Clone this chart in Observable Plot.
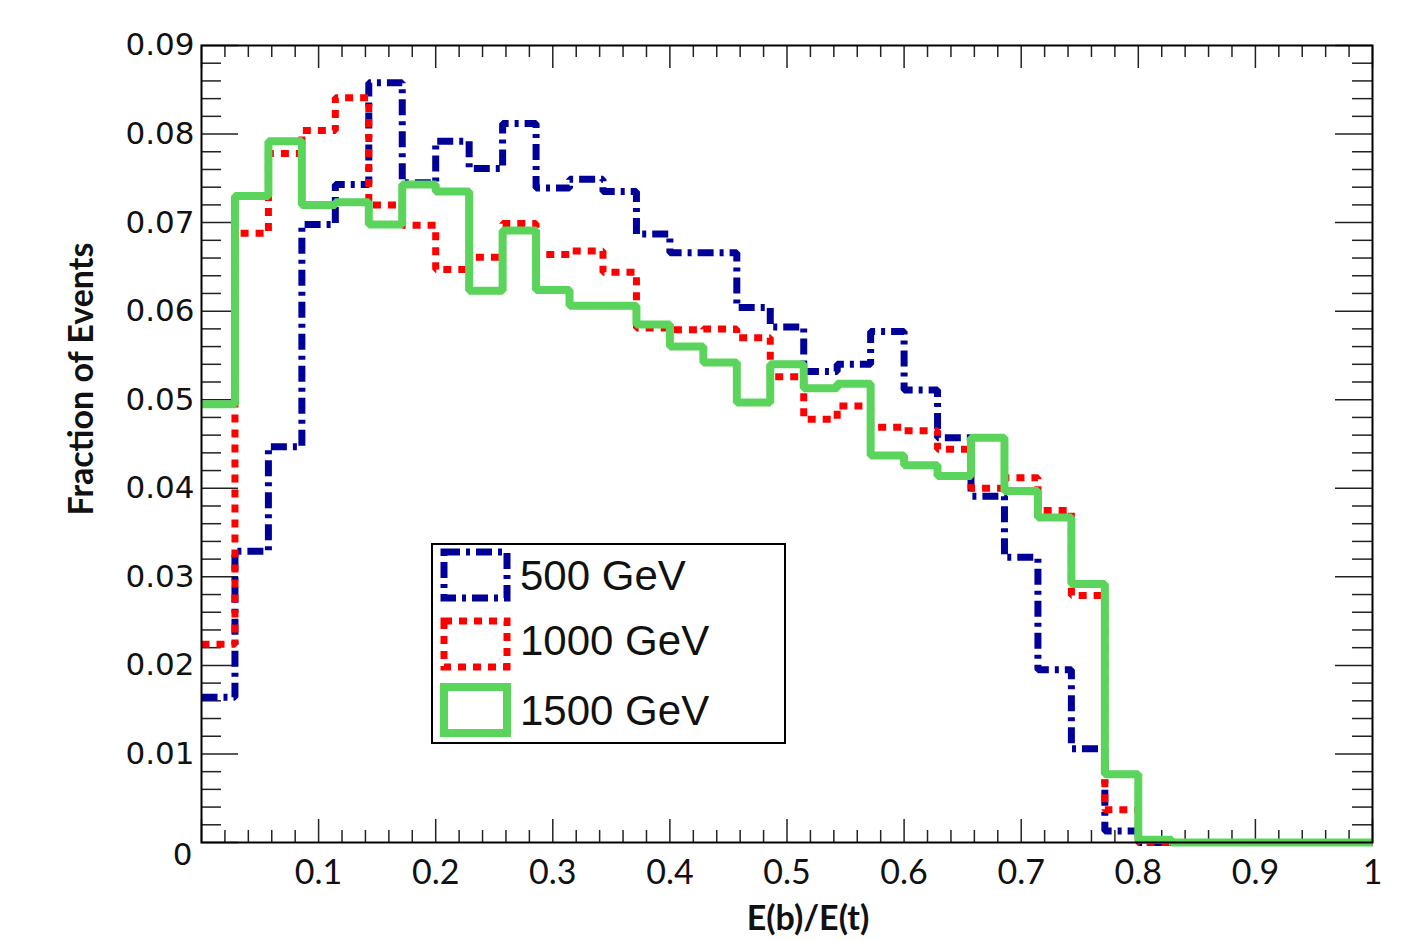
<!DOCTYPE html>
<html>
<head>
<meta charset="utf-8">
<script src="https://cdn.jsdelivr.net/npm/d3@7"></script>
<script src="https://cdn.jsdelivr.net/npm/@observablehq/plot@0.6"></script>
<style>
  body { margin: 0; background: #fff; }
  #wrap { position: relative; width: 1428px; height: 941px; overflow: hidden; }
  #legend { position: absolute; left: 431px; top: 543px; }
</style>
</head>
<body>
<div id="wrap"></div>
<script>
// ---------- data ----------
const nBins = 35; // bins of width 1/35 on [0, 1]
const series = ["500 GeV", "1000 GeV", "1500 GeV"];
const v500 = [0.0164,0.0329,0.0447,0.0698,0.0743,0.0858,0.0745,0.0792,0.0761,0.0812,
              0.0739,0.0749,0.0735,0.0687,0.0666,0.0666,0.0604,0.0582,0.0532,0.0540,
              0.0577,0.0511,0.0457,0.0391,0.0322,0.0195,0.0106,0.0013,0,0,
              0,0,0,0,0];
const v1000 = [0.0224,0.0688,0.0778,0.0804,0.0841,0.0720,0.0697,0.0647,0.0661,0.0699,
               0.0664,0.0668,0.0644,0.0581,0.0579,0.0580,0.0570,0.0526,0.0478,0.0493,
               0.0469,0.0465,0.0444,0.0400,0.0412,0.0375,0.0279,0.0037,0,0,
               0,0,0,0,0];
const v1500 = [0.0495,0.0730,0.0792,0.0720,0.0723,0.0698,0.0743,0.0735,0.0623,0.0691,
               0.0624,0.0606,0.0606,0.0585,0.0560,0.0542,0.0497,0.0540,0.0513,0.0518,
               0.0437,0.0426,0.0414,0.0457,0.0397,0.0367,0.0292,0.0077,0.0003,0,
               0,0,0,0,0];
const xTickLabels = [0.1,0.2,0.3,0.4,0.5,0.6,0.7,0.8,0.9,1];
const yTickLabels = [0.01,0.02,0.03,0.04,0.05,0.06,0.07,0.08,0.09];
const xTitle = "E(b)/E(t)";
const yTitle = "Fraction of Events";

// ---------- helpers ----------
function steps(values) {
  const pts = values.map((v, i) => ({x: i / nBins, y: v}));
  pts.push({x: 1, y: values[values.length - 1]});
  return pts;
}
const xMajor = d3.range(0, 11).map(i => i / 10);
const xMinor = d3.range(0, 51).map(i => i / 50).filter((d, i) => i % 5 !== 0);
const yMajor = d3.range(0, 10).map(i => i / 100);
const yMinor = d3.range(0, 46).map(i => i / 500).filter((d, i) => i % 5 !== 0);

const W = 1428, H = 941, mL = 201, mR = 56, mT = 45, mB = 99;
const pW = W - mL - mR, pH = H - mT - mB;

const colBlue = "#000099", colRed = "#ff0000", colGreen = "#5bd45b";
const dashBlue = "16,6,4,6", dashRed = "8,7";

const tickStyle = {stroke: "#222", strokeWidth: 1.5};

const chart = Plot.plot({
  width: W, height: H,
  marginLeft: mL, marginRight: mR, marginTop: mT, marginBottom: mB,
  x: {domain: [0, 1]},
  y: {domain: [0, 0.09]},
  style: {background: "white", overflow: "visible"},
  marks: [
    // ticks (inside, all four sides)
    Plot.tickX(xMinor, {x: d => d, insetTop: pH - 12, ...tickStyle}),
    Plot.tickX(xMajor, {x: d => d, insetTop: pH - 23, ...tickStyle}),
    Plot.tickX(xMinor, {x: d => d, insetBottom: pH - 12, ...tickStyle}),
    Plot.tickX(xMajor, {x: d => d, insetBottom: pH - 23, ...tickStyle}),
    Plot.tickY(yMinor, {y: d => d, insetRight: pW - 20, ...tickStyle}),
    Plot.tickY(yMajor, {y: d => d, insetRight: pW - 37, ...tickStyle}),
    Plot.tickY(yMinor, {y: d => d, insetLeft: pW - 20, ...tickStyle}),
    Plot.tickY(yMajor, {y: d => d, insetLeft: pW - 37, ...tickStyle}),
    // histograms
    Plot.line(steps(v500), {x: "x", y: "y", curve: "step-after", stroke: colBlue,
      strokeWidth: 7, strokeDasharray: dashBlue, strokeLinejoin: "miter", strokeLinecap: "butt"}),
    Plot.line(steps(v1000), {x: "x", y: "y", curve: "step-after", stroke: colRed,
      strokeWidth: 7, strokeDasharray: dashRed, strokeLinejoin: "miter", strokeLinecap: "butt"}),
    Plot.line(steps(v1500), {x: "x", y: "y", curve: "step-after", stroke: colGreen,
      strokeWidth: 8, strokeLinejoin: "miter", strokeLinecap: "butt"}),
    Plot.frame({stroke: "#000", strokeWidth: 2}),
    // tick labels
    Plot.axisX(xTickLabels, {tickSize: 0, tickPadding: 17, fontSize: 34, fontFamily: "Lato, 'Open Sans', sans-serif",
      fill: "#111", label: null, tickFormat: d => String(d)}),
    Plot.axisY(yTickLabels, {tickSize: 0, tickPadding: 7, fontSize: 31, fontFamily: "'DejaVu Sans', sans-serif",
      fill: "#111", label: null, tickFormat: d => d.toFixed(2)}),
    Plot.axisY([0], {tickSize: 0, tickPadding: 9, dy: 13, fontSize: 31, fontFamily: "'DejaVu Sans', sans-serif",
      fill: "#111", label: null, tickFormat: () => "0"}),
    // axis titles
    Plot.text([xTitle], {frameAnchor: "bottom", text: d => d, textAnchor: "middle", lineAnchor: "middle",
      dx: 21, dy: 77, fontSize: 34, fontWeight: "bold", fontFamily: "Lato, sans-serif", fill: "#111"}),
    Plot.text([yTitle], {frameAnchor: "left", text: d => d, textAnchor: "middle", lineAnchor: "middle",
      rotate: -90, dx: -119, dy: -65, fontSize: 34, fontWeight: "bold", fontFamily: "Lato, sans-serif", fill: "#111"})
  ]
});
document.getElementById("wrap").appendChild(chart);

// ---------- legend (inside the frame) ----------
const lw = 355, lh = 201;
const leg = d3.select("#wrap").append("svg").attr("id", "legend")
  .attr("width", lw).attr("height", lh);
leg.append("rect").attr("x", 1).attr("y", 1).attr("width", lw - 2).attr("height", lh - 2)
  .attr("fill", "white").attr("stroke", "#000").attr("stroke-width", 2);
const entries = [
  {label: series[0], stroke: colBlue, dash: dashBlue, w: 7, y: 9, tb: 47},
  {label: series[1], stroke: colRed, dash: dashRed, w: 7, y: 78, tb: 112},
  {label: series[2], stroke: colGreen, dash: null, w: 8, y: 144, tb: 182}
];
for (const e of entries) {
  leg.append("rect").attr("x", 13).attr("y", e.y).attr("width", 63).attr("height", 46)
    .attr("fill", "none").attr("stroke", e.stroke).attr("stroke-width", e.w)
    .attr("stroke-dasharray", e.dash);
  leg.append("text").attr("x", 89).attr("y", e.tb).text(e.label)
    .attr("font-family", "'Liberation Sans', Arial, sans-serif").attr("font-size", 42).attr("fill", "#111");
}
</script>
</body>
</html>
